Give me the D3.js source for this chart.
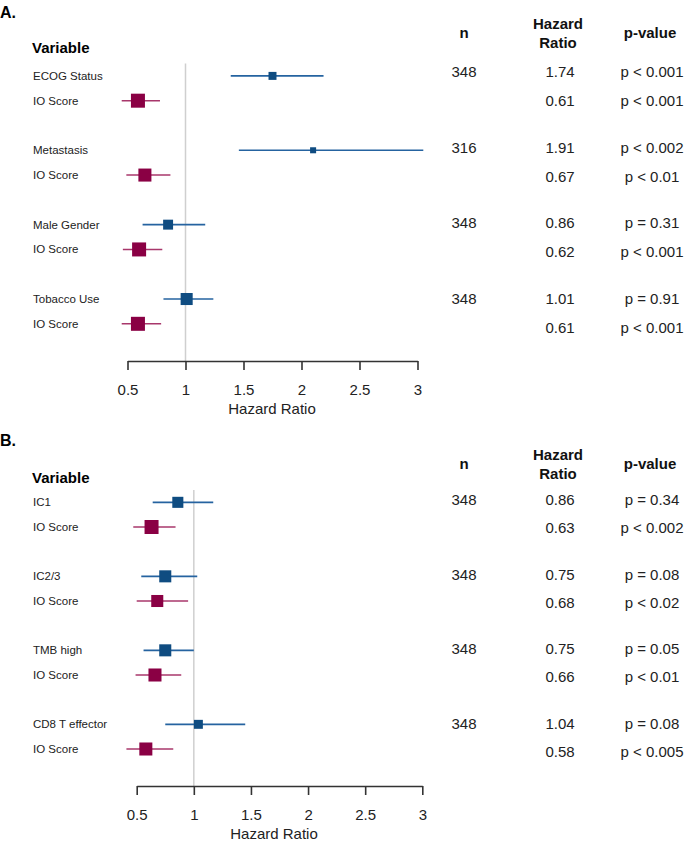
<!DOCTYPE html>
<html>
<head>
<meta charset="utf-8">
<script src="https://cdn.jsdelivr.net/npm/d3@7.9.0/dist/d3.min.js"></script>
<style>
  body { margin: 0; background: #fff; }
  svg { display: block; font-family: "Liberation Sans", Arial, sans-serif; }
</style>
</head>
<body>
<svg id="chart" width="685" height="853"></svg>
<script>
// panel A data
const labelsA = ['ECOG Status', 'IO Score', 'Metastasis', 'IO Score', 'Male Gender', 'IO Score', 'Tobacco Use', 'IO Score'];
const hrA = [1.75, 0.59, 2.10, 0.65, 0.85, 0.60, 1.01, 0.59];
const lowA = [1.39, 0.45, 1.46, 0.49, 0.63, 0.46, 0.81, 0.45];
const highA = [2.19, 0.78, 3.05, 0.87, 1.17, 0.80, 1.24, 0.79];
const weightA = [0.57, 1, 0.43, 0.93, 0.71, 1, 0.86, 1];
const nA = ['348', '', '316', '', '348', '', '348', ''];
const hrTextA = ['1.74', '0.61', '1.91', '0.67', '0.86', '0.62', '1.01', '0.61'];
const pA = ['p < 0.001', 'p < 0.001', 'p < 0.002', 'p < 0.01', 'p = 0.31', 'p < 0.001', 'p = 0.91', 'p < 0.001'];

// panel B data
const labelsB = ['IC1', 'IO Score', 'IC2/3', 'IO Score', 'TMB high', 'IO Score', 'CD8 T effector', 'IO Score'];
const hrB = [0.86, 0.63, 0.75, 0.68, 0.75, 0.66, 1.04, 0.58];
const lowB = [0.64, 0.47, 0.54, 0.50, 0.56, 0.49, 0.75, 0.41];
const highB = [1.17, 0.84, 1.03, 0.95, 1.00, 0.89, 1.45, 0.82];
const weightB = [0.79, 1, 0.86, 0.86, 0.86, 0.93, 0.64, 0.93];
const nB = ['348', '', '348', '', '348', '', '348', ''];
const hrTextB = ['0.86', '0.63', '0.75', '0.68', '0.75', '0.66', '1.04', '0.58'];
const pB = ['p = 0.34', 'p < 0.002', 'p = 0.08', 'p < 0.02', 'p = 0.05', 'p < 0.01', 'p = 0.08', 'p < 0.005'];

const tickValues = [0.5, 1, 1.5, 2, 2.5, 3];
const rowIndex = [0, 1, 3, 4, 6, 7, 9, 10];

const svg = d3.select('#chart');
const sizeScale = d3.scaleLinear().domain([0, 1]).range([0, 14]);

function drawPanel(cfg) {
  const g = svg.append('g');
  const rows = cfg.labels.map((label, i) => ({
    label, hr: cfg.hr[i], lo: cfg.low[i], hi: cfg.high[i], w: cfg.weight[i],
    n: cfg.n[i], hrText: cfg.hrText[i], p: cfg.p[i],
    row: rowIndex[i], io: i % 2 === 1, i
  }));

  const x = d3.scaleLinear().domain([0.5, 3]).range(cfg.xRange);
  const y = d3.scaleLinear().domain([-0.5, 11.5]).range(cfg.yRange);

  g.append('text').attr('x', 0).attr('y', cfg.letterY)
    .attr('font-size', 16).attr('font-weight', 'bold').text(cfg.letter);
  g.append('text').attr('x', 32).attr('y', cfg.variableY)
    .attr('font-size', 15).attr('font-weight', 'bold').text('Variable');

  // reference line at HR = 1
  g.append('line')
    .attr('x1', x(1)).attr('x2', x(1))
    .attr('y1', y(-0.5)).attr('y2', y(11.5))
    .attr('stroke', '#cfcfcf').attr('stroke-width', 1.5);

  // row labels
  g.selectAll('.lab').data(rows).join('text')
    .attr('x', 33).attr('y', d => y(d.row) + 4)
    .attr('font-size', 11.5).attr('fill', '#222')
    .text(d => d.label);

  // confidence intervals
  g.selectAll('.ci').data(rows).join('line')
    .attr('x1', d => x(d.lo)).attr('x2', d => x(d.hi))
    .attr('y1', d => y(d.row)).attr('y2', d => y(d.row))
    .attr('stroke', d => d.io ? '#a8376b' : '#2563a0')
    .attr('stroke-width', 1.6);

  // point estimates
  g.selectAll('.pt').data(rows).join('rect')
    .attr('x', d => x(d.hr) - sizeScale(d.w) / 2)
    .attr('y', d => y(d.row) - sizeScale(d.w) / 2)
    .attr('width', d => sizeScale(d.w))
    .attr('height', d => sizeScale(d.w))
    .attr('fill', d => d.io ? '#8a0044' : '#0f4c81');

  // axis
  const axis = g.append('g')
    .attr('transform', `translate(0,${y(11.5)})`)
    .call(d3.axisBottom(x).tickValues(tickValues).tickFormat(d => d)
      .tickSize(9).tickSizeOuter(0).tickPadding(14));
  axis.select('.domain').attr('stroke', '#333').attr('stroke-width', 1.6);
  axis.selectAll('.tick line').attr('stroke', '#333').attr('stroke-width', 1.6);
  axis.selectAll('.tick text').attr('font-size', 15).attr('fill', '#222')
    .attr('font-family', '"Liberation Sans", Arial, sans-serif');
  g.append('text').attr('x', cfg.titleX).attr('y', y(11.5) + 53)
    .attr('text-anchor', 'middle').attr('font-size', 15).attr('fill', '#222')
    .text('Hazard Ratio');

  // table headers
  const head = g.append('g').attr('font-size', 15).attr('font-weight', 'bold')
    .attr('text-anchor', 'middle').attr('fill', '#111');
  head.append('text').attr('x', 464).attr('y', cfg.headY).text('n');
  head.append('text').attr('x', 558).attr('y', cfg.headY - 9).text('Hazard');
  head.append('text').attr('x', 558).attr('y', cfg.headY + 10).text('Ratio');
  head.append('text').attr('x', 650).attr('y', cfg.headY).text('p-value');

  // table rows
  const ty = d => cfg.tableTop + Math.floor(d.i / 2) * cfg.pairGap + (d.i % 2) * cfg.rowGap + 5;
  const cols = [
    { x: 464, f: d => d.n },
    { x: 560, f: d => d.hrText },
    { x: 652, f: d => d.p }
  ];
  cols.forEach(c => {
    g.selectAll(null).data(rows).join('text')
      .attr('x', c.x).attr('y', ty)
      .attr('text-anchor', 'middle').attr('font-size', 15).attr('fill', '#222')
      .text(c.f);
  });
}

drawPanel({
  letter: 'A.', letterY: 17.5, variableY: 53,
  labels: labelsA, hr: hrA, low: lowA, high: highA, weight: weightA,
  n: nA, hrText: hrTextA, p: pA,
  xRange: [127.5, 417.5], yRange: [63.5, 361], titleX: 272,
  headY: 38, tableTop: 72, pairGap: 75.7, rowGap: 29
});

drawPanel({
  letter: 'B.', letterY: 446, variableY: 482.5,
  labels: labelsB, hr: hrB, low: lowB, high: highB, weight: weightB,
  n: nB, hrText: hrTextB, p: pB,
  xRange: [136.7, 422.3], yRange: [490, 786], titleX: 274,
  headY: 468.5, tableTop: 500, pairGap: 74.7, rowGap: 28
});
</script>
</body>
</html>
